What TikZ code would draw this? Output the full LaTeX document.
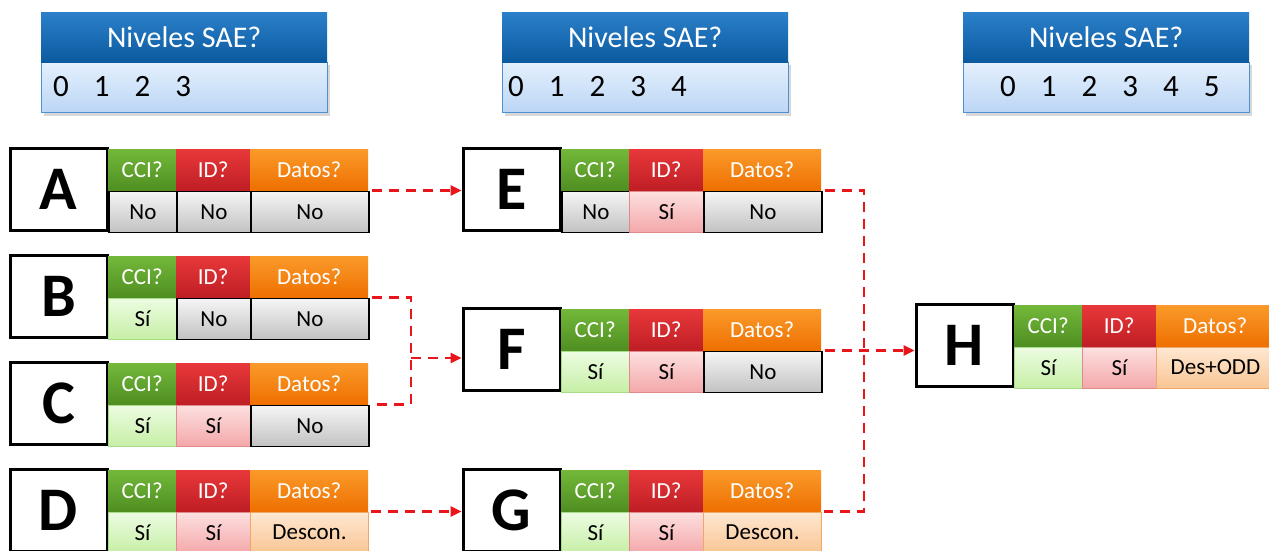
\documentclass[tikz,border=0pt]{standalone}
\usepackage{fontspec}
\setmainfont{Carlito}
\usetikzlibrary{arrows.meta,shadows}
\definecolor{saeTop}{HTML}{2B80C9}
\definecolor{saeBot}{HTML}{0B5AA0}
\definecolor{saeVTop}{HTML}{E4F0FD}
\definecolor{saeVBot}{HTML}{BBD6F5}
\definecolor{saeBorder}{HTML}{4F8FD3}
\definecolor{gTop}{HTML}{73B83A}
\definecolor{gBot}{HTML}{4F8F22}
\definecolor{rTop}{HTML}{E8383A}
\definecolor{rBot}{HTML}{BF1E25}
\definecolor{oTop}{HTML}{FA9A2A}
\definecolor{oBot}{HTML}{EE7000}
\definecolor{grayTop}{HTML}{F5F5F5}
\definecolor{grayBot}{HTML}{C2C2C2}
\definecolor{siGTop}{HTML}{EDFCE2}
\definecolor{siGBot}{HTML}{C6EFA6}
\definecolor{siGBorder}{HTML}{A8DC88}
\definecolor{siRTop}{HTML}{FDE0E0}
\definecolor{siRBot}{HTML}{F4A8AA}
\definecolor{siRBorder}{HTML}{E08A8C}
\definecolor{peTop}{HTML}{FEE8D2}
\definecolor{peBot}{HTML}{F9C594}
\definecolor{peBorder}{HTML}{EFA868}
\definecolor{connRed}{HTML}{E8151B}
\newcommand\digitsfont{\fontsize{31}{36}\selectfont\spaceskip=25pt\relax}
\tikzset{
 cell/.style={rectangle, inner sep=0pt, minimum height=41pt, font=\fontsize{23}{26}\selectfont, anchor=north west},
 hg/.style={cell, top color=gTop, bottom color=gBot, text=white, minimum width=68pt},
 hr/.style={cell, top color=rTop, bottom color=rBot, text=white, minimum width=74pt},
 ho/.style={cell, top color=oTop, bottom color=oBot, text=white, minimum width=118pt},
 vno/.style={top color=grayTop, bottom color=grayBot, draw=black, line width=1.8pt},
 vsig/.style={top color=siGTop, bottom color=siGBot, draw=siGBorder, line width=1pt},
 vsir/.style={top color=siRTop, bottom color=siRBot, draw=siRBorder, line width=1pt},
 vpe/.style={top color=peTop, bottom color=peBot, draw=peBorder, line width=1pt},
 letterbox/.style={draw=black, line width=3pt, fill=white, minimum width=97pt, minimum height=82pt, inner sep=0pt, font=\fontsize{62}{62}\selectfont\bfseries},
 saeh/.style={rectangle, anchor=north west, inner sep=0pt, minimum width=286pt, minimum height=50pt, top color=saeTop, bottom color=saeBot, text=white, font=\fontsize{30}{36}\selectfont},
 saev/.style={rectangle, anchor=north west, inner sep=0pt, minimum width=286pt, minimum height=50pt, top color=saeVTop, bottom color=saeVBot, draw=saeBorder, line width=1pt},
 saed/.style={anchor=west, inner sep=0pt, font=\digitsfont},
 conn/.style={draw=connRed, line width=2.5pt, dash pattern=on 10pt off 7pt},
 arr/.style={conn, -{Triangle[length=11pt,width=10pt]}}
}
% #1 letter, #2 x, #3 y, #4/#5 CCI value/style, #6/#7 ID value/style, #8/#9 Datos value/style
\newcommand\drow[9]{%
 \node[letterbox] (#1) at ({#2+49.5},{#3+42.5}) {#1};
 \node[hg] (#1ch) at ({#2+99},{#3+2}) {CCI?};
 \node[hr] (#1ih) at ({#2+167},{#3+2}) {ID?};
 \node[ho] (#1dh) at ({#2+241},{#3+2}) {Datos?};
 \node[cell,minimum width=68pt,#5] (#1cv) at ({#2+99},{#3+43.5}) {#4};
 \node[cell,minimum width=74pt,#7] (#1iv) at ({#2+167},{#3+43.5}) {#6};
 \node[cell,minimum width=118pt,#9] (#1dv) at ({#2+241},{#3+43.5}) {#8};
}
% #1 name, #2 x, #3 digit offset, #4 digits
\newcommand\saebox[4]{%
 \node[saev, drop shadow={opacity=0.3, shadow xshift=2pt, shadow yshift=-3pt}] (#1v) at (#2,62) {};
 \node[saeh] (#1h) at (#2,12) {Niveles SAE?};
 \node[saed] (#1d) at ({#2+#3},87) {#4};
}
\begin{document}
\begin{tikzpicture}[x=1pt,y=-1pt]
\useasboundingbox (0,0) rectangle (1269,551);
\clip (0,0) rectangle (1269,551);
\fill[white] (0,0) rectangle (1269,551);

\saebox{S1}{41}{12}{0 1 2 3}
\saebox{S2}{502}{6}{0 1 2 3 4}
\saebox{S3}{963}{37}{0 1 2 3 4 5}

\drow{A}{9}{147}{No}{vno}{No}{vno}{No}{vno}
\drow{B}{9}{254}{Sí}{vsig}{No}{vno}{No}{vno}
\drow{C}{9}{361}{Sí}{vsig}{Sí}{vsir}{No}{vno}
\drow{D}{9}{468}{Sí}{vsig}{Sí}{vsir}{Descon.}{vpe}
\drow{E}{462}{147}{No}{vno}{Sí}{vsir}{No}{vno}
\drow{F}{462}{307}{Sí}{vsig}{Sí}{vsir}{No}{vno}
\drow{G}{462}{468}{Sí}{vsig}{Sí}{vsir}{Descon.}{vpe}
\drow{H}{915}{303}{Sí}{vsig}{Sí}{vsir}{Des+ODD}{vpe}

\coordinate (J1) at (411,358);
\coordinate (J2) at (864,350);
\draw[arr] ([xshift=2pt]Adv.north east) -- (Adv.north east -| E.west);
\draw[conn] ([xshift=2pt]Bdv.north east) -| (J1) |- ([xshift=2pt]Cdv.north east);
\draw[arr] (J1) -- (J1 -| F.west);
\draw[arr] ([xshift=2pt]Ddv.north east) -- (Ddv.north east -| G.west);
\draw[conn] ([xshift=2pt]Edv.north east) -| (J2) |- ([xshift=2pt]Gdv.north east);
\draw[arr] ([xshift=2pt]Fdv.north east) -- (Fdv.north east -| H.west);
\end{tikzpicture}
\end{document}
